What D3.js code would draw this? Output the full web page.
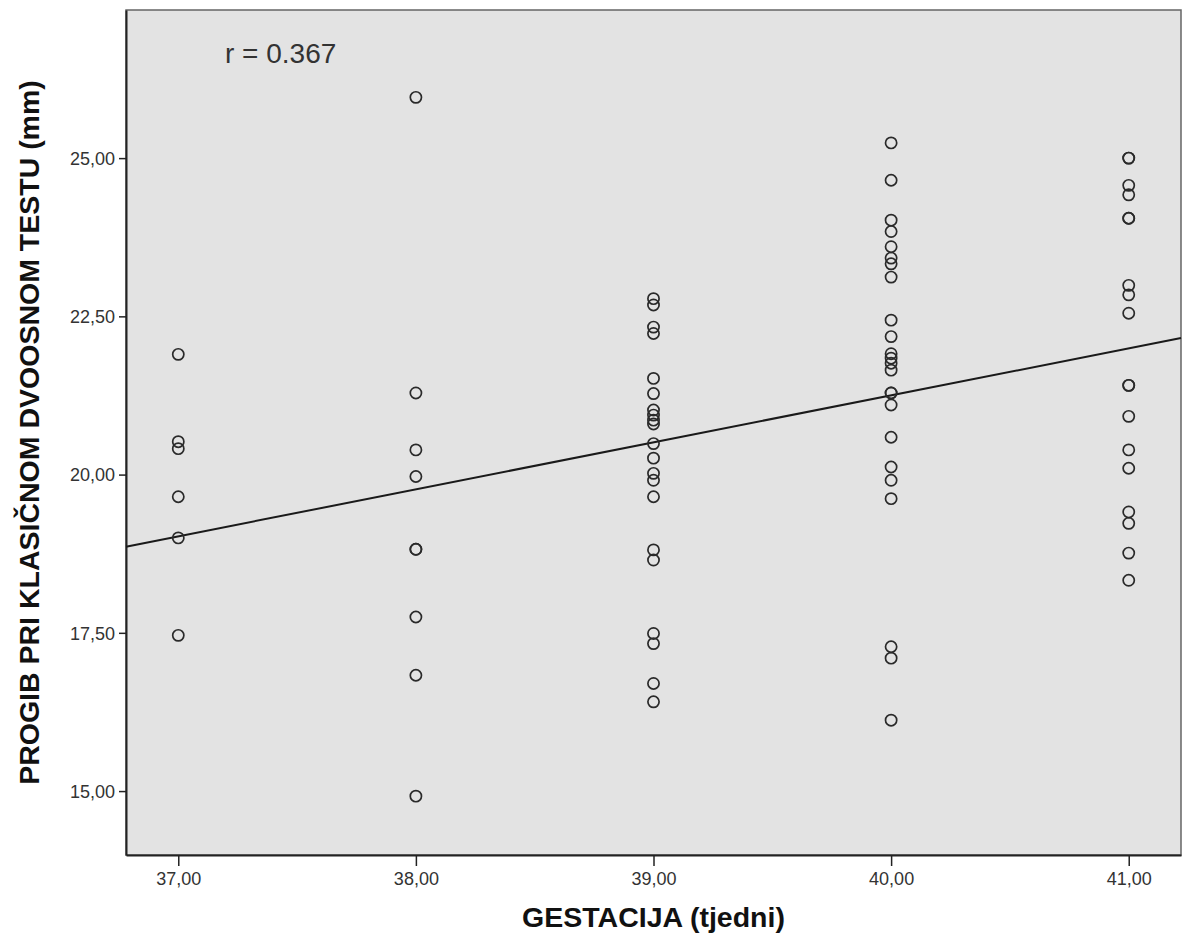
<!DOCTYPE html>
<html>
<head>
<meta charset="utf-8">
<script src="https://cdn.jsdelivr.net/npm/d3@7/dist/d3.min.js"></script>
<style>
  html, body { margin: 0; padding: 0; background: #ffffff; }
  svg { display: block; font-family: "Liberation Sans", Arial, sans-serif; }
</style>
</head>
<body>
<svg id="chart" width="1187" height="947"></svg>
<script>
// ---- data ----
const weeks = [37, 38, 39, 40, 41];
const values37 = [21.90, 20.52, 20.41, 19.65, 19.00, 17.46];
const values38 = [25.96, 21.29, 20.39, 19.97, 18.82, 18.82, 17.75, 16.83, 14.92];
const values39 = [22.78, 22.68, 22.33, 22.23, 21.52, 21.28, 21.02, 20.94, 20.86, 20.80,
                  20.49, 20.26, 20.02, 19.91, 19.65, 18.81, 18.65, 17.49, 17.33, 16.70, 16.41];
const values40 = [25.24, 24.65, 24.02, 23.84, 23.60, 23.42, 23.33, 23.12, 22.44, 22.18,
                  21.91, 21.84, 21.76, 21.65, 21.29, 21.29, 21.10, 20.59, 20.12, 19.91,
                  19.62, 17.28, 17.10, 16.12];
const values41 = [25.00, 25.00, 24.57, 24.42, 24.05, 24.05, 22.99, 22.84, 22.55, 21.41,
                  21.41, 20.92, 20.39, 20.10, 19.41, 19.23, 18.76, 18.33];
const xTicks = [37, 38, 39, 40, 41];
const yTicks = [15, 17.5, 20, 22.5, 25];
const rLabel = "r = 0.367";
const xTitle = "GESTACIJA (tjedni)";
const yTitle = "PROGIB PRI KLASIČNOM DVOOSNOM TESTU (mm)";

const groups = [values37, values38, values39, values40, values41];
const points = [];
groups.forEach((g, i) => g.forEach(v => points.push({x: weeks[i], y: v})));

// ---- layout ----
const svg = d3.select("#chart");
const L = 126, R = 1181, T = 10, B = 855;

const x = d3.scaleLinear().domain([36.78, 41.22]).range([L, R]);
const y = d3.scaleLinear().domain([13.99, 27.34]).range([B, T]);

const fmt = d => d3.format(".2f")(d).replace(".", ",");

// plot background
svg.append("rect")
  .attr("x", L).attr("y", T).attr("width", R - L).attr("height", B - T)
  .attr("fill", "#e3e3e3").attr("stroke", "#666").attr("stroke-width", 1.5);

// axes
const xAxis = d3.axisBottom(x).tickValues(xTicks).tickFormat(fmt)
  .tickSizeInner(11).tickSizeOuter(0).tickPadding(6);
const yAxis = d3.axisLeft(y).tickValues(yTicks).tickFormat(fmt)
  .tickSizeInner(7).tickSizeOuter(0).tickPadding(4);

const gx = svg.append("g").attr("transform", `translate(0,${B})`).call(xAxis);
const gy = svg.append("g").attr("transform", `translate(${L},0)`).call(yAxis);
[gx, gy].forEach(g => {
  g.select(".domain").attr("stroke", "#222").attr("stroke-width", 2);
  g.selectAll(".tick line").attr("stroke", "#222").attr("stroke-width", 1.5);
  g.selectAll(".tick text").attr("fill", "#333").style("font-size", "18px")
    .style("font-family", "'Liberation Sans', Arial, sans-serif");
});
gy.selectAll(".tick text").attr("dy", "0.35em");

// regression line (OLS from data)
const mx = d3.mean(points, d => d.x), my = d3.mean(points, d => d.y);
const sxy = d3.sum(points, d => (d.x - mx) * (d.y - my));
const sxx = d3.sum(points, d => (d.x - mx) ** 2);
const slope = sxy / sxx, intercept = my - slope * mx;
const [x0, x1] = x.domain();
svg.append("line")
  .attr("x1", x(x0)).attr("y1", y(intercept + slope * x0))
  .attr("x2", x(x1)).attr("y2", y(intercept + slope * x1))
  .attr("stroke", "#1a1a1a").attr("stroke-width", 2);

// points
svg.append("g").selectAll("circle").data(points).join("circle")
  .attr("cx", d => x(d.x)).attr("cy", d => y(d.y)).attr("r", 5.6)
  .attr("fill", "none").attr("stroke", "#2a2a2a").attr("stroke-width", 1.7);

// r label
svg.append("text").attr("x", 225).attr("y", 63)
  .attr("fill", "#333").style("font-size", "28px").text(rLabel);

// axis titles
svg.append("text").attr("x", (L + R) / 2).attr("y", 927)
  .attr("text-anchor", "middle").attr("fill", "#111")
  .style("font-size", "28.5px").style("font-weight", "bold").text(xTitle);

svg.append("text")
  .attr("transform", `translate(39,${(T + B) / 2}) rotate(-90)`)
  .attr("text-anchor", "middle").attr("fill", "#111")
  .style("font-size", "28.5px").style("font-weight", "bold").text(yTitle);
</script>
</body>
</html>
